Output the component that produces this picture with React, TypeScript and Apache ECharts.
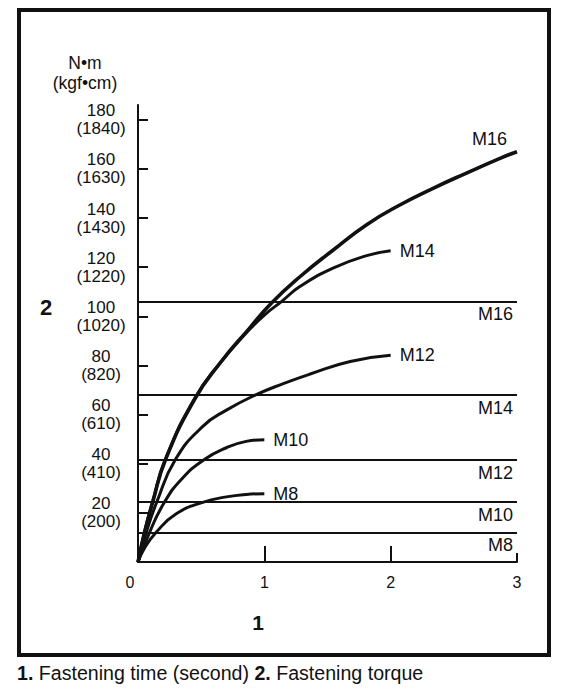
import React, { useEffect, useRef } from 'react';
import * as echarts from 'echarts';

// fastening time (s) / torque (N·m)
const m16Time = [0, 0.052, 0.116, 0.218, 0.447, 0.65, 0.88, 1.059, 1.284, 1.548, 1.81, 2.076, 2.34, 2.6, 2.87, 3.0];
const m16Torque = [0, 12.1, 24.3, 41.7, 66.1, 81, 95, 105.5, 116.2, 127.1, 137.3, 145.4, 152.2, 158.3, 164.4, 167];
const m14Time = [0, 0.052, 0.116, 0.218, 0.447, 0.65, 0.88, 1.0, 1.138, 1.284, 1.548, 1.81, 2.0];
const m14Torque = [0, 12.3, 24.6, 42, 66.4, 81, 94.5, 100.5, 106.1, 112.2, 119.7, 124.7, 126.7];
const m12Time = [0, 0.066, 0.148, 0.296, 0.513, 0.7, 0.927, 1.15, 1.363, 1.68, 2.0];
const m12Torque = [0, 12.1, 24.3, 41.7, 55.2, 61.8, 67.9, 72.6, 76.5, 81.6, 84.1];
const m10Time = [0, 0.092, 0.209, 0.35, 0.525, 0.7, 0.856, 1.0];
const m10Torque = [0, 12.1, 24.3, 34, 41.7, 46.5, 49.1, 49.8];
const m8Time = [0, 0.05, 0.144, 0.3, 0.513, 0.7, 0.856, 1.0];
const m8Torque = [0, 5.5, 12.1, 19.5, 24.3, 26.5, 27.5, 27.8];

// horizontal reference torque per bolt size
const refSizes = ['M16', 'M14', 'M12', 'M10', 'M8'];
const refTorque = [106.1, 67.9, 41.7, 24.4, 12.1];

const yTicks = [20, 40, 60, 80, 100, 120, 140, 160, 180];
const kgfLabels = ['200', '410', '610', '820', '1020', '1220', '1430', '1630', '1840'];
const xTicks = [0, 1, 2, 3];

const FONT = 'Liberation Sans, Arial, sans-serif';
const INK = '#111';

function pairs(xs: number[], ys: number[]) {
  return xs.map((x, i) => [x, ys[i]]);
}

function App() {
  const chartRef = useRef<HTMLDivElement>(null);

  useEffect(() => {
    if (!chartRef.current) return;
    const chart = echarts.init(chartRef.current, null, { renderer: 'svg' });

    const curve = (name: string, xs: number[], ys: number[], width: number, labelOffset?: number[]) => ({
      name,
      type: 'line',
      data: pairs(xs, ys),
      smooth: 0.5,
      symbol: 'none',
      lineStyle: { color: INK, width },
      endLabel: {
        show: true,
        formatter: name,
        color: INK,
        fontSize: 18,
        fontFamily: FONT,
        distance: 9,
        offset: labelOffset || [0, 0],
      },
      z: 3,
    });

    chart.setOption({
      animation: false,
      backgroundColor: '#fff',
      grid: { left: 138, right: 51, top: 105, bottom: 135 },
      xAxis: [
        {
          type: 'value',
          min: 0,
          max: 3,
          interval: 1,
          splitLine: { show: false },
          axisLine: { lineStyle: { color: INK, width: 2 } },
          axisTick: { inside: true, length: 16, lineStyle: { color: INK, width: 2 }, customValues: [1, 2] },
          axisLabel: {
            customValues: xTicks,
            margin: 12,
            color: INK,
            fontSize: 16,
            fontFamily: FONT,
            formatter: (v: number) => (v === 0 ? '{z|0}' : String(v)),
            rich: { z: { fontSize: 16, fontFamily: FONT, color: INK, padding: [0, 16, 0, 0] } },
          },
        },
        {
          // short end tick at 3
          type: 'value',
          position: 'bottom',
          min: 0,
          max: 3,
          interval: 1,
          splitLine: { show: false },
          axisLine: { show: false },
          axisLabel: { show: false },
          axisTick: { show: true, inside: true, length: 9, lineStyle: { color: INK, width: 2 }, customValues: [3] },
        },
      ],
      yAxis: {
        type: 'value',
        min: 0,
        max: 186,
        splitLine: { show: false },
        axisLine: { show: true, lineStyle: { color: INK, width: 2 } },
        axisTick: { show: true, inside: true, length: 10, lineStyle: { color: INK, width: 2 }, customValues: yTicks },
        axisLabel: {
          customValues: yTicks,
          align: 'center',
          margin: 37,
          color: INK,
          fontSize: 17,
          lineHeight: 18,
          fontFamily: FONT,
          formatter: (v: number) => `${v}\n(${kgfLabels[yTicks.indexOf(v)]})`,
        },
      },
      graphic: [
        {
          type: 'rect',
          shape: { x: 19, y: 10, width: 530, height: 645 },
          style: { fill: 'none', stroke: INK, lineWidth: 4 },
        },
        {
          type: 'text',
          x: 85,
          y: 73,
          style: {
            text: 'N•m\n(kgf•cm)',
            fill: INK,
            font: `17.5px ${FONT}`,
            lineHeight: 20,
            textAlign: 'center',
            textVerticalAlign: 'middle',
            align: 'center',
            verticalAlign: 'middle',
          },
        },
        {
          type: 'text',
          x: 46,
          y: 307,
          style: {
            text: '2',
            fill: INK,
            font: `bold 22px ${FONT}`,
            textAlign: 'center',
            textVerticalAlign: 'middle',
            align: 'center',
            verticalAlign: 'middle',
          },
        },
        {
          type: 'text',
          x: 258,
          y: 622,
          style: {
            text: '1',
            fill: INK,
            font: `bold 21px ${FONT}`,
            textAlign: 'center',
            textVerticalAlign: 'middle',
            align: 'center',
            verticalAlign: 'middle',
          },
        },
        {
          type: 'text',
          x: 17,
          y: 673,
          style: {
            text: '{b|1.} Fastening time (second) {b|2.} Fastening torque',
            fill: INK,
            font: `19.6px ${FONT}`,
            textVerticalAlign: 'middle',
            verticalAlign: 'middle',
            rich: { b: { fontWeight: 'bold', fontSize: 19.6, fontFamily: FONT, fill: INK, color: INK } },
          },
        },
      ],
      series: [
        {
          ...curve('M16', m16Time, m16Torque, 3.6, [-54, -13]),
          markLine: {
            silent: true,
            symbol: 'none',
            lineStyle: { color: INK, width: 2, type: 'solid' },
            label: {
              position: 'insideEndBottom',
              color: INK,
              fontSize: 18,
              fontFamily: FONT,
              distance: 4,
            },
            data: refTorque.map((v, i) => ({ yAxis: v, label: { formatter: refSizes[i] } })),
          },
        },
        curve('M14', m14Time, m14Torque, 3),
        curve('M12', m12Time, m12Torque, 3),
        curve('M10', m10Time, m10Torque, 3),
        curve('M8', m8Time, m8Torque, 3),
      ],
    });

    return () => {
      chart.dispose();
    };
  }, []);

  return <div ref={chartRef} style={{ position: 'absolute', left: 0, top: 0, width: 568, height: 697 }} />;
}

export default App;
